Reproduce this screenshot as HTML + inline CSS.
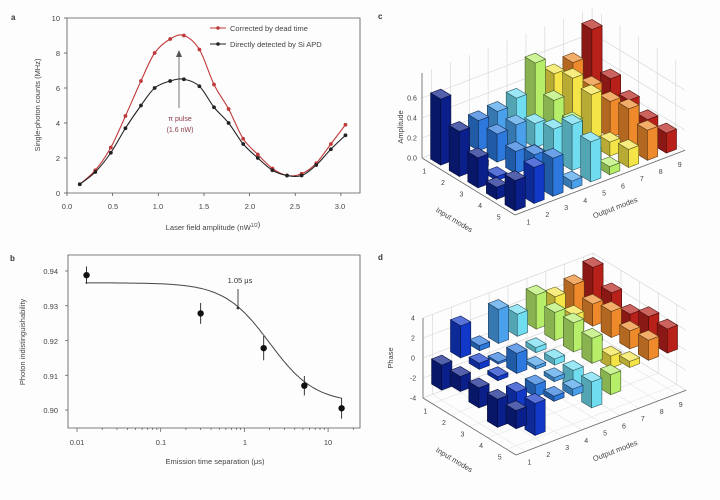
<!DOCTYPE html>
<html><head><meta charset="utf-8"><style>
html,body{margin:0;padding:0;background:#fff;}
svg{display:block;font-family:"Liberation Sans",sans-serif;}
</style></head><body>
<svg id="s" width="720" height="500" viewBox="0 0 720 500" xmlns="http://www.w3.org/2000/svg">
<rect width="720" height="500" fill="#fdfdfd"/>
<g font-size="8" fill="#333">
<text x="11" y="20" font-weight="bold">a</text>
<text x="10" y="261" font-weight="bold">b</text>
<text x="378" y="19" font-weight="bold">c</text>
<text x="378" y="260" font-weight="bold">d</text>
</g>
<g stroke="#555" stroke-width="0.8" fill="none">
<path d="M67,18 H360 V193 H67 Z"/>
</g>
<g id="aticks" stroke="#555" stroke-width="0.8"></g>
<g font-size="7.5" fill="#444" text-anchor="end">
<text x="60" y="21">10</text><text x="60" y="56">8</text><text x="60" y="91">6</text>
<text x="60" y="126">4</text><text x="60" y="161">2</text><text x="60" y="196">0</text>
</g>
<g font-size="7.5" fill="#444" text-anchor="middle">
<text x="67" y="209">0.0</text><text x="113" y="209">0.5</text><text x="158" y="209">1.0</text>
<text x="204" y="209">1.5</text><text x="250" y="209">2.0</text><text x="295" y="209">2.5</text><text x="340" y="209">3.0</text>
<text x="213" y="230" font-size="7.5">Laser field amplitude (nW<tspan font-size="5" dy="-3">1/2</tspan>)</text>
</g>
<text transform="translate(40,105) rotate(-90)" font-size="7.5" fill="#444" text-anchor="middle">Single-photon counts (MHz)</text>
<g id="acurves"></g>
<line x1="179" y1="108" x2="179" y2="55" stroke="#555" stroke-width="0.8"/>
<path d="M176,57 L179,50 L182,57 Z" fill="#555"/>
<text x="180" y="121" font-size="7" fill="#8a3a4a" text-anchor="middle">π pulse</text>
<text x="180" y="132" font-size="7" fill="#8a3a4a" text-anchor="middle">(1.6 nW)</text>
<line x1="210" y1="28" x2="226" y2="28" stroke="#c0393b" stroke-width="1"/><circle cx="218" cy="28" r="1.8" fill="#c0393b"/>
<text x="230" y="31" font-size="7.5" fill="#444">Corrected by dead time</text>
<line x1="210" y1="44" x2="226" y2="44" stroke="#222" stroke-width="1"/><circle cx="218" cy="44" r="1.8" fill="#222"/>
<text x="230" y="47" font-size="7.5" fill="#444">Directly detected by Si APD</text>
<path d="M68,255 H360 V428 H68 Z" stroke="#555" stroke-width="0.8" fill="none"/>
<g id="bticks" stroke="#555" stroke-width="0.7"></g>
<g font-size="7.5" fill="#444" text-anchor="end">
<text x="58" y="274">0.94</text><text x="58" y="309">0.93</text><text x="58" y="344">0.92</text>
<text x="58" y="379">0.91</text><text x="58" y="413">0.90</text>
</g>
<g font-size="7.5" fill="#444" text-anchor="middle">
<text x="77" y="445">0.01</text><text x="161" y="445">0.1</text><text x="245" y="445">1</text><text x="328" y="445">10</text>
<text x="215" y="464">Emission time separation (μs)</text>
</g>
<text transform="translate(25,342) rotate(-90)" font-size="7.5" fill="#444" text-anchor="middle">Photon indistinguishability</text>
<g id="bcurve"></g>
<text x="240" y="283" font-size="7.5" fill="#333" text-anchor="middle">1.05 μs</text>
<line x1="238" y1="289" x2="238" y2="308" stroke="#333" stroke-width="0.9"/><circle cx="238" cy="308" r="1.4" fill="#333"/>
<g id="c3d"></g>
<g id="d3d"></g>
<g font-size="7.5" fill="#444">
<text transform="translate(403,127) rotate(-90)" text-anchor="middle">Amplitude</text>
<text transform="translate(453,222) rotate(31)" text-anchor="middle">Input modes</text>
<text transform="translate(616,210) rotate(-21)" text-anchor="middle">Output modes</text>
<text transform="translate(393,358) rotate(-90)" text-anchor="middle">Phase</text>
<text transform="translate(453,462) rotate(31)" text-anchor="middle">Input modes</text>
<text transform="translate(616,453) rotate(-21)" text-anchor="middle">Output modes</text>
</g>
<g id="labels3d" font-size="7" fill="#444" text-anchor="middle"></g>
</svg>
<script>
var NS="http://www.w3.org/2000/svg";
function el(p,t,a){var e=document.createElementNS(NS,t);for(var k in a)e.setAttribute(k,a[k]);p.appendChild(e);return e;}
var at=document.getElementById('aticks');
for(var v=0;v<=10;v+=2){var y=193-17.5*v;el(at,'line',{x1:67,y1:y,x2:64,y2:y});}
for(var v=0;v<=3;v+=0.5){var x=67+91.3*v;el(at,'line',{x1:x,y1:193,x2:x,y2:196});}
var xs=[0.14,0.31,0.48,0.64,0.81,0.96,1.13,1.28,1.45,1.61,1.77,1.93,2.09,2.25,2.41,2.57,2.73,2.89,3.05];
var r=[0.5,1.3,2.6,4.4,6.4,8.0,8.8,9.0,8.2,6.2,4.8,3.1,2.2,1.4,1.0,1.1,1.7,2.8,3.9];
var b=[0.5,1.2,2.3,3.7,5.0,6.0,6.4,6.5,6.1,4.9,4.0,2.8,2.0,1.3,1.0,1.0,1.6,2.5,3.3];
var ac=document.getElementById('acurves');
function series(d,c){var pts=xs.map(function(x,i){return[67+91.3*x,193-17.5*d[i]];});
 var s="M"+pts[0];for(var i=0;i<pts.length-1;i++){var p0=pts[Math.max(0,i-1)],p1=pts[i],p2=pts[i+1],p3=pts[Math.min(pts.length-1,i+2)];
 s+=" C"+(p1[0]+(p2[0]-p0[0])/6)+","+(p1[1]+(p2[1]-p0[1])/6)+" "+(p2[0]-(p3[0]-p1[0])/6)+","+(p2[1]-(p3[1]-p1[1])/6)+" "+p2;}
 el(ac,'path',{d:s,stroke:c,'stroke-width':1.1,fill:'none'});
 pts.forEach(function(p){el(ac,'circle',{cx:p[0],cy:p[1],r:1.9,fill:c});});}
series(r,'#c0393b');series(b,'#222');
var bt=document.getElementById('bticks');
for(var k=0;k<5;k++){var y=271+34.75*k;el(bt,'line',{x1:68,y1:y,x2:65,y2:y});}
function lx(t){return 77+83.7*(Math.log10(t)+2);}
for(var d=-2;d<=1;d++)for(var m=1;m<10;m++){var t=m*Math.pow(10,d);if(t>20)break;var x=lx(t);el(bt,'line',{x1:x,y1:428,x2:x,y2:m==1?432:430});}
function ly(v){return 271+(0.94-v)*3475;}
var bc=document.getElementById('bcurve');var s="";
for(var t=-1.9;t<=1.17;t+=0.02){var T=Math.pow(10,t);var v=0.902+0.0346/(1+Math.pow(T/2.0,1.6));s+=(s?" L":"M")+lx(T).toFixed(1)+","+ly(v).toFixed(1);}
el(bc,'path',{d:s,stroke:'#444','stroke-width':1,fill:'none'});
[[0.013,0.9388,0.0025],[0.3,0.9278,0.003],[1.7,0.9178,0.0035],[5.2,0.907,0.0028],[14.5,0.9005,0.003]].forEach(function(p){
 var x=lx(p[0]),y=ly(p[1]);el(bc,'line',{x1:x,y1:ly(p[1]+p[2]),x2:x,y2:ly(p[1]-p[2]),stroke:'#222','stroke-width':0.9});
 el(bc,'circle',{cx:x,cy:y,r:3.2,fill:'#111'});});
var cols=['#0b1f8a','#1238c8','#2c78dc','#4aa0ea','#70dcf0','#b6ee6a','#f4e448','#ee8a2c','#b8201a'];
function shade(h,f){var n=parseInt(h.slice(1),16),R=n>>16,G=(n>>8)&255,B=n&255;
 function c(x){return Math.max(0,Math.min(255,Math.round(f>1?x+(255-x)*(f-1):x*f)));}
 return 'rgb('+c(R)+','+c(G)+','+c(B)+')';}
function panel(id,A,zmin,zmax,zs,ticks,data,tickfmt){
 var g=document.getElementById(id),lab=document.getElementById('labels3d');
 var iu=[18.6,11.4],ou=[18.9,-7.2];
 function P(i,o,z){return[A[0]+(i-0.5)*iu[0]+(o-0.5)*ou[0],A[1]+(i-0.5)*iu[1]+(o-0.5)*ou[1]-(z-zmin)*zs];}
 function poly(pts,f,st,sw){el(g,'polygon',{points:pts.map(function(p){return p[0].toFixed(1)+','+p[1].toFixed(1);}).join(' '),fill:f,stroke:st||'none','stroke-width':sw||0.6});}
 function line(a,b,c,w){el(g,'line',{x1:a[0],y1:a[1],x2:b[0],y2:b[1],stroke:c||'#ccc','stroke-width':w||0.6});}
 var gc='#d4d4d4';
 for(var o=0.5;o<=9.5;o+=(o==0.5?0.5:1)){line(P(0.5,o,zmin),P(0.5,o,zmax),gc);line(P(0.5,o,zmin),P(5.5,o,zmin),'#e4e4e4');}
 for(var i=0.5;i<=5.5;i+=(i==0.5?0.5:1)){line(P(i,9.5,zmin),P(i,9.5,zmax),gc);line(P(i,0.5,zmin),P(i,9.5,zmin),'#e4e4e4');}
 ticks.forEach(function(z){line(P(0.5,0.5,z),P(0.5,9.5,z),gc);line(P(0.5,9.5,z),P(5.5,9.5,z),gc);
  var q=P(0.5,0.5,z);var t=el(lab,'text',{x:q[0]-10,y:q[1]+2.5});t.textContent=tickfmt(z);});
 line(P(0.5,0.5,zmin),P(5.5,0.5,zmin),'#666',0.8);line(P(5.5,0.5,zmin),P(5.5,9.5,zmin),'#666',0.8);
 line(P(0.5,0.5,zmin),P(0.5,0.5,zmax),'#666',0.8);
 for(var i=1;i<=5;i++){var q=P(i,0.5,zmin);var t=el(lab,'text',{x:q[0]-7,y:q[1]+10});t.textContent=i;}
 for(var o=1;o<=9;o++){var q=P(5.5,o,zmin);var t=el(lab,'text',{x:q[0]+4,y:q[1]+13});t.textContent=o;}
 var bars=[];for(var i=1;i<=5;i++)for(var o=1;o<=9;o++)bars.push([i,o,data[i-1][o-1]]);
 bars.sort(function(a,b){return (a[0]-a[1])-(b[0]-b[1])||a[0]-b[0];});
 var h=0.27;
 bars.forEach(function(bb){var i=bb[0],o=bb[1],v=bb[2];
  var z0=Math.min(0,v),z1=Math.max(0,v);if(z1-z0<0.02*(zmax-zmin))z1=z0+0.02*(zmax-zmin);
  var c=cols[o-1],st=shade(c,0.4);
  poly([P(i-h,o-h,z0),P(i+h,o-h,z0),P(i+h,o-h,z1),P(i-h,o-h,z1)],shade(c,0.75),st);
  poly([P(i+h,o-h,z0),P(i+h,o+h,z0),P(i+h,o+h,z1),P(i+h,o-h,z1)],c,st);
  poly([P(i-h,o-h,z1),P(i-h,o+h,z1),P(i+h,o+h,z1),P(i+h,o-h,z1)],shade(c,1.3),st);
 });
}
var amp=[[0.66,0.08,0.30,0.32,0.38,0.66,0.48,0.52,0.78],
[0.45,0.05,0.28,0.30,0.24,0.40,0.55,0.40,0.40],
[0.30,0.04,0.22,0.12,0.30,0.30,0.50,0.36,0.30],
[0.12,0.06,0.30,0.10,0.46,0.12,0.14,0.40,0.22],
[0.30,0.36,0.38,0.08,0.40,0.08,0.18,0.30,0.20]];
panel('c3d',[422,158],0,0.85,100,[0,0.2,0.4,0.6],amp,function(z){return z.toFixed(1);});
var ph=[[-2.5,3.2,0.5,3.4,2.2,3.4,2.5,3.0,4.0],
[-1.5,0.6,-0.2,-0.8,-0.5,2.8,1.8,2.2,2.6],
[-2.0,0.4,2.0,-0.3,-0.6,2.9,0.4,2.6,1.6],
[-2.8,-2.4,-1.2,-0.4,-2.4,2.5,-1.2,1.8,2.5],
[-1.8,-3.2,-0.5,-0.7,-2.6,-2.0,0.6,2.0,2.4]];
panel('d3d',[423,398],-4,4,10,[-4,-2,0,2,4],ph,function(z){return ''+z;});
</script>
</body></html>
